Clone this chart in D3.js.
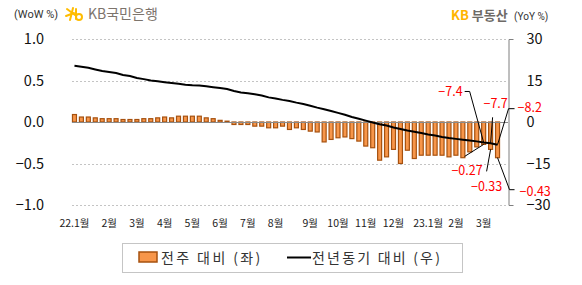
<!DOCTYPE html>
<html>
<head>
<meta charset="utf-8">
<script src="https://cdn.jsdelivr.net/npm/d3@7"></script>
<style>
body { margin: 0; background: #fff; }
svg { display: block; font-family: "Noto Sans CJK KR", "Noto Sans", sans-serif; }
</style>
</head>
<body>
<div id="wrapper"></div>
<script>
// weekly change (left axis, %)
const wowValues = [
    0.09, 0.06, 0.06, 0.05, 0.04, 0.04, 0.04, 0.03, 0.03, 0.03,
    0.04, 0.04, 0.05, 0.06, 0.05, 0.07, 0.07, 0.07, 0.07, 0.05,
    0.04, 0.02, 0.01, -0.03, -0.03, -0.03, -0.05, -0.05, -0.07, -0.07,
    -0.05, -0.09, -0.07, -0.09, -0.11, -0.12, -0.24, -0.21, -0.19, -0.18,
    -0.20, -0.23, -0.29, -0.31, -0.46, -0.42, -0.33, -0.50, -0.34, -0.44,
    -0.40, -0.40, -0.40, -0.40, -0.42, -0.40, -0.43, -0.36, -0.30, -0.27,
    -0.33, -0.43
]
// year-on-year change (right axis, %)
const yoyValues = [
    20.3, 20.0, 19.6, 19.0, 18.4, 18.1, 17.7, 17.0, 16.6, 15.9,
    15.5, 15.0, 14.7, 14.4, 14.1, 13.8, 13.5, 13.3, 13.2, 12.9,
    12.6, 12.3, 11.9, 11.2, 10.7, 10.4, 10.0, 9.6, 8.9, 8.5,
    8.0, 7.6, 7.0, 6.5, 5.9, 5.2, 4.6, 4.0, 3.3, 2.6,
    1.8, 1.2, 0.5, -0.2, -0.8, -1.3, -2.0, -2.5, -3.1, -3.5,
    -4.0, -4.5, -4.9, -5.4, -5.8, -6.1, -6.4, -6.7, -7.0, -7.4,
    -7.7, -8.2
]
const monthLabels = ['22.1월', '2월', '3월', '4월', '5월', '6월', '7월', '8월',
    '9월', '10월', '11월', '12월', '23.1월', '2월', '3월']
const monthWeek = [0, 5, 9, 13, 17, 21, 25, 29, 34, 38, 42, 46, 51, 55, 59]
const leftTicks = [1, 0.5, 0, -0.5, -1]
const rightTicks = [30, 15, 0, -15, -30]

// labelled points: series, week index, text
const noteSeries = ['line', 'line', 'line', 'bar', 'bar', 'bar']
const noteWeek = [59, 60, 61, 59, 60, 61]
const noteText = ['−7.4', '−7.7', '−8.2', '−0.27', '−0.33', '−0.43']

const width = 582
const height = 285
const weeks = d3.range(wowValues.length)

const svg = d3.select('#wrapper')
    .append('svg')
        .attr('width', width)
        .attr('height', height)

const x = d3.scaleBand()
    .domain(weeks)
    .range([71, 501])
    .paddingInner(0.28)
    .paddingOuter(0.14)

const yL = d3.scaleLinear().domain([-1, 1]).range([205, 39])
const yR = d3.scaleLinear().domain([-30, 30]).range([205, 39])
const cx = i => x(i) + x.bandwidth() / 2

// gridlines
svg.append('g')
    .selectAll('line')
    .data(leftTicks.filter(d => d !== 0))
    .join('line')
        .attr('x1', 72)
        .attr('x2', 508)
        .attr('y1', d => Math.round(yL(d)) + 0.5)
        .attr('y2', d => Math.round(yL(d)) + 0.5)
        .attr('stroke', '#c4c4c4')
        .attr('stroke-dasharray', '2,2')

// left axis labels
const leftAxis = svg.append('g')
    .attr('transform', 'translate(72,0)')
    .call(d3.axisLeft(yL).tickValues(leftTicks).tickFormat(d3.format('.1f')).tickSize(0).tickPadding(28))
leftAxis.select('.domain').remove()
leftAxis.selectAll('text')
    .attr('font-size', 14.5)
    .attr('font-family', '"Noto Sans CJK KR", sans-serif')
    .attr('fill', '#111')

// right axis
const rightAxis = svg.append('g')
    .attr('transform', 'translate(508.5,0)')
    .call(d3.axisRight(yR).tickValues(rightTicks).tickFormat(d3.format('d')).tickSizeInner(0).tickSizeOuter(5).tickPadding(18))
rightAxis.select('.domain').attr('stroke', '#7f7f7f')
rightAxis.selectAll('text')
    .attr('font-size', 14.5)
    .attr('font-family', '"Noto Sans CJK KR", sans-serif')
    .attr('fill', '#111')

// bars
svg.append('g')
    .selectAll('rect')
    .data(wowValues)
    .join('rect')
        .attr('x', (d, i) => x(i) + 0.5)
        .attr('width', x.bandwidth() - 1)
        .attr('y', d => Math.min(yL(d), yL(0)))
        .attr('height', d => Math.abs(yL(d) - yL(0)))
        .attr('fill', '#f7964a')
        .attr('stroke', '#a6510f')
        .attr('stroke-width', 1.2)

// zero line
svg.append('line')
    .attr('x1', 72)
    .attr('x2', 508)
    .attr('y1', Math.round(yL(0)) + 0.5)
    .attr('y2', Math.round(yL(0)) + 0.5)
    .attr('stroke', '#8a8a8a')
    .attr('stroke-width', 1)

// yoy line
svg.append('path')
    .datum(yoyValues)
    .attr('fill', 'none')
    .attr('stroke', '#000')
    .attr('stroke-width', 2)
    .attr('d', d3.line().x((d, i) => cx(i)).y(d => yR(d)))

// month labels
svg.append('g')
    .selectAll('text')
    .data(monthLabels)
    .join('text')
        .attr('x', (d, i) => cx(monthWeek[i]))
        .attr('y', 227)
        .attr('text-anchor', 'middle')
        .attr('font-size', 10.5)
        .attr('fill', '#222')
        .text(d => d)

// annotations: label position / leader elbow, relative to the point
const noteLayout = [
    { tx: -21, ty: -46, anchor: 'end', path: [[-14, -51], [-19, -51]] },
    { tx: 5, ty: -35, anchor: 'middle', path: [[2, -26]] },
    { tx: 20, ty: -33, anchor: 'start', path: [[11, -36], [17, -36]] },
    { tx: -1, ty: 31, anchor: 'end', path: [[-19, 12]] },
    { tx: -4, ty: 42, anchor: 'middle', path: [[-4, 22]] },
    { tx: 22, ty: 38, anchor: 'start', path: [[12, 32], [17, 32]] }
]
const notes = svg.append('g')
noteText.forEach((t, k) => {
    const i = noteWeek[k]
    const px = cx(i)
    const py = noteSeries[k] === 'line' ? yR(yoyValues[i]) : yL(wowValues[i])
    const lay = noteLayout[k]
    const pts = [[px, py]].concat(lay.path.map(p => [px + p[0], py + p[1]]))
    notes.append('path')
        .attr('d', d3.line()(pts))
        .attr('fill', 'none')
        .attr('stroke', '#000')
        .attr('stroke-width', 1)
    notes.append('text')
        .attr('x', px + lay.tx)
        .attr('y', py + lay.ty)
        .attr('text-anchor', lay.anchor)
        .attr('font-size', 12.5)
        .attr('fill', '#ff0000')
        .text(t)
})

// header left
svg.append('text')
    .attr('x', 14)
    .attr('y', 18)
    .attr('font-size', 11)
    .attr('font-family', 'Roboto, sans-serif')
    .attr('fill', '#333')
    .text('(WoW %)')

const logo = svg.append('g')
    .attr('transform', 'translate(73,14)')
    .attr('stroke', '#ffbc00')
    .attr('stroke-width', 2)
    .attr('stroke-linecap', 'round')
    .attr('fill', 'none')
logo.append('line').attr('x1', -6).attr('y1', -5).attr('x2', 2).attr('y2', 1)
logo.append('line').attr('x1', -7).attr('y1', 2).attr('x2', 1).attr('y2', -1)
logo.append('line').attr('x1', -3).attr('y1', 6).attr('x2', 0).attr('y2', -6)
logo.append('circle').attr('cx', 6).attr('cy', 3).attr('r', 3)
logo.append('line').attr('x1', 3).attr('y1', -5).attr('x2', 3).attr('y2', 5)

svg.append('text')
    .attr('x', 88)
    .attr('y', 19)
    .attr('font-size', 14)
    .attr('fill', '#7d746c')
    .text('KB국민은행')

// header right
const hr = svg.append('text')
    .attr('x', 451)
    .attr('y', 20)
    .attr('font-size', 13)
    .attr('font-weight', 'bold')
hr.append('tspan').attr('fill', '#ffb400').text('KB ')
hr.append('tspan').attr('fill', '#6e6a66').text('부동산')
svg.append('text')
    .attr('x', 514)
    .attr('y', 20)
    .attr('font-size', 10)
    .attr('font-family', 'Roboto, sans-serif')
    .attr('fill', '#333')
    .text('(YoY %)')

// legend
const legend = svg.append('g')
svg.append('rect')
    .attr('x', 122.5)
    .attr('y', 243.5)
    .attr('width', 340)
    .attr('height', 29)
    .attr('fill', 'none')
    .attr('stroke', '#8a8a8a')
    .attr('stroke-dasharray', '1,1')
legend.append('rect')
    .attr('x', 139)
    .attr('y', 252)
    .attr('width', 18)
    .attr('height', 10)
    .attr('fill', '#f7964a')
    .attr('stroke', '#a6510f')
    .attr('stroke-width', 1.5)
legend.append('text')
    .attr('x', 161)
    .attr('y', 263)
    .attr('font-size', 14)
    .attr('fill', '#333')
    .attr('letter-spacing', 2.4)
    .text('전주 대비 (좌)')
legend.append('line')
    .attr('x1', 287)
    .attr('x2', 311)
    .attr('y1', 257.5)
    .attr('y2', 257.5)
    .attr('stroke', '#000')
    .attr('stroke-width', 2)
legend.append('text')
    .attr('x', 312)
    .attr('y', 263)
    .attr('font-size', 14)
    .attr('fill', '#333')
    .attr('letter-spacing', 2.2)
    .text('전년동기 대비 (우)')
</script>
</body>
</html>
